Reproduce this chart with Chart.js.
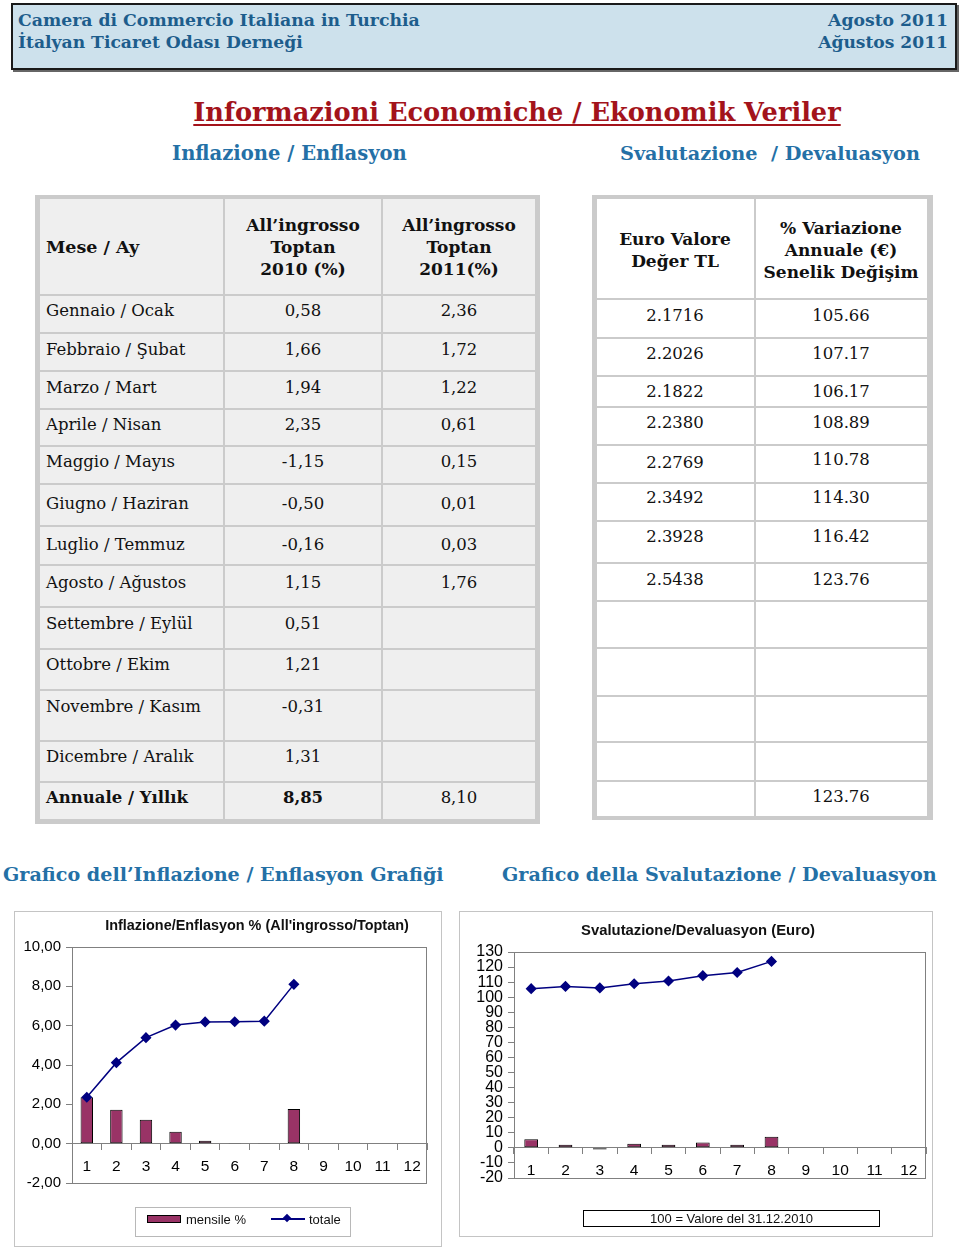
<!DOCTYPE html>
<html><head><meta charset="utf-8">
<script src="https://cdn.jsdelivr.net/npm/chart.js@4.4.1/dist/chart.umd.min.js"></script>
<style>
body{margin:0;background:#fff;width:960px;height:1249px;position:relative;overflow:hidden;font-family:'DejaVu Serif',serif;color:#111;}
.a{position:absolute;white-space:nowrap;}
.hd{font-weight:bold;color:#1d5d8c;font-size:17px;line-height:22px;}
.sub{font-weight:bold;color:#2470a6;font-size:18px;line-height:24px;}
.cell{position:absolute;box-sizing:border-box;}
.ct{position:absolute;white-space:nowrap;font-size:16.5px;line-height:20px;}
.sans{font-family:'Liberation Sans',Arial,sans-serif;}
</style></head><body>

<!-- header box -->
<div class="a" style="left:11px;top:3px;width:942px;height:63px;background:#cde1ec;border:2px solid #1a1a1a;box-shadow:2px 2px 0 #666;"></div>
<div class="a hd fit" data-w="402" style="left:18px;top:9px;">Camera di Commercio Italiana in Turchia</div>
<div class="a hd fit" data-w="285" style="left:18px;top:31px;">İtalyan Ticaret Odası Derneği</div>
<div class="a hd fit" data-w="120" data-right="948" style="left:828px;top:9px;">Agosto 2011</div>
<div class="a hd fit" data-w="130" data-right="948" style="left:818px;top:31px;">Ağustos 2011</div>

<div class="a fit" data-w="648" data-cx="517" style="top:96px;font-weight:bold;font-size:25px;line-height:32px;color:#a3131b;text-decoration:underline;text-decoration-thickness:2px;text-underline-offset:3px;">Informazioni Economiche / Ekonomik Veriler</div>
<div class="a sub fit" data-w="235" style="left:172px;top:142px;">Inflazione / Enflasyon</div>
<div class="a sub fit" data-w="300" style="left:620px;top:142px;">Svalutazione&nbsp; / Devaluasyon</div>

<div id="tbl"></div>

<div class="a sub fit" data-w="441" style="left:3px;top:863px;">Grafico dell’Inflazione / Enflasyon Grafiği</div>
<div class="a sub fit" data-w="435" style="left:502px;top:863px;">Grafico della Svalutazione / Devaluasyon</div>

<!-- chart 1 -->
<div class="a" style="left:14px;top:911px;width:426px;height:334px;border:1px solid #c4c4c4;"></div>
<canvas id="c1" width="425" height="332" style="position:absolute;left:15px;top:913px;"></canvas>
<div class="a sans fit" data-w="304" data-cx="257" style="top:917px;font-weight:bold;font-size:11.5px;line-height:16px;color:#111;">Inflazione/Enflasyon % (All'ingrosso/Toptan)</div>
<div class="a" style="left:135px;top:1207px;width:214px;height:28px;border:1px solid #b8b8b8;"></div>
<div class="a" style="left:147px;top:1215px;width:32px;height:6px;background:#993366;border:1px solid #000;"></div>
<div class="a sans" style="left:186px;top:1211px;font-size:13px;line-height:17px;">mensile %</div>
<div class="a" style="left:271px;top:1218px;width:34px;height:2px;background:#000080;"></div>
<div class="a" style="left:284px;top:1215px;width:6px;height:6px;background:#000080;transform:rotate(45deg);"></div>
<div class="a sans" style="left:309px;top:1211px;font-size:13px;line-height:17px;">totale</div>

<!-- chart 2 -->
<div class="a" style="left:459px;top:911px;width:472px;height:324px;border:1px solid #c4c4c4;"></div>
<canvas id="c2" width="472" height="322" style="position:absolute;left:460px;top:913px;"></canvas>
<div class="a sans fit" data-w="234" data-cx="698" style="top:922px;font-weight:bold;font-size:13px;line-height:16px;color:#111;">Svalutazione/Devaluasyon (Euro)</div>
<div class="a sans" style="left:583px;top:1210px;width:295px;height:15px;border:1.5px solid #000;text-align:center;font-size:13px;line-height:15px;">100 = Valore del 31.12.2010</div>

<script>
// ---------- DATA ----------
const monthNames = ['Gennaio / Ocak','Febbraio / Şubat','Marzo / Mart','Aprile / Nisan','Maggio / Mayıs','Giugno / Haziran','Luglio / Temmuz','Agosto / Ağustos','Settembre / Eylül','Ottobre / Ekim','Novembre / Kasım','Dicembre / Aralık'];
const monthNums = ['1','2','3','4','5','6','7','8','9','10','11','12'];
const infl2010 = [0.58,1.66,1.94,2.35,-1.15,-0.50,-0.16,1.15,0.51,1.21,-0.31,1.31];
const infl2011 = [2.36,1.72,1.22,0.61,0.15,0.01,0.03,1.76];
const inflAnnual2010 = 8.85;
const inflAnnual2011 = 8.10;
const inflTotal2011 = [2.36,4.12,5.39,6.03,6.19,6.20,6.23,8.10];
const euroTL = [2.1716,2.2026,2.1822,2.2380,2.2769,2.3492,2.3928,2.5438];
const euroIndex = [105.66,107.17,106.17,108.89,110.78,114.30,116.42,123.76];
const euroIndexAnnual = 123.76;
const euroMonthly = [5.8,2.0,-1.1,2.8,2.0,3.5,2.1,7.4];

// ---------- TABLES (layout) ----------
const tbl = document.getElementById('tbl');
function box(l,t,w,h,bg){const d=document.createElement('div');d.className='cell';d.style.cssText=`left:${l}px;top:${t}px;width:${w}px;height:${h}px;background:${bg};`;tbl.appendChild(d);return d;}
function txt(s,x,cy,align,bold,lh,fs){const d=document.createElement('div');d.className='ct';lh=lh||20;d.style.lineHeight=lh+'px';
  d.innerHTML=s; if(bold)d.style.fontWeight='bold'; if(fs)d.style.fontSize=fs+'px';
  const lines=(s.match(/<br>/g)||[]).length+1; d.style.top=(cy-lines*lh/2)+'px';
  if(align==='c'){d.style.left=x+'px';d.style.transform='translateX(-50%)';d.style.textAlign='center';} else d.style.left=x+'px';
  tbl.appendChild(d);return d;}
const fmtC=v=>v.toFixed(2).replace('.',',');

// left table
box(35,195,505,629,'#cbcbcb');
const LC=[[40,183],[225,156],[383,152]];
const Ltops=[296,334,372,410,447,485,527,566,608,650,691,742,783];
const Lbots=[332,370,408,445,483,525,564,606,648,689,740,781,819];
const Lcy=[311,350,388,425,462,504,545,583,624,665,707,757,798];
LC.forEach(c=>box(c[0],199,c[1],95,'#efefef'));
Ltops.forEach((t,i)=>LC.forEach(c=>box(c[0],t,c[1],Lbots[i]-t,'#efefef')));
txt('Mese / Ay',46,247,'l',true,22,17.5);
txt('All’ingrosso<br>Toptan<br>2010 (%)',303,247,'c',true,22,17);
txt('All’ingrosso<br>Toptan<br>2011(%)',459,247,'c',true,22,17);
monthNames.forEach((m,i)=>{
  txt(m,46,Lcy[i],'l');
  txt(fmtC(infl2010[i]),303,Lcy[i],'c');
  if(i<infl2011.length) txt(fmtC(infl2011[i]),459,Lcy[i],'c');
});
txt('Annuale / Yıllık',46,798,'l',true);
txt(fmtC(inflAnnual2010),303,798,'c',true);
txt(fmtC(inflAnnual2011),459,798,'c');

// right table
box(592,195,341,625,'#cbcbcb');
const RC=[[597,157],[756,171]];
const Rtops=[300,339,377,408,446,484,522,564,602,649,697,743,782];
const Rbots=[337,375,406,444,482,520,562,600,647,695,741,780,816];
const Rcy=[316,354,392,423,463,498,537,580];
RC.forEach(c=>box(c[0],199,c[1],99,'#ffffff'));
Rtops.forEach((t,i)=>RC.forEach(c=>box(c[0],t,c[1],Rbots[i]-t,'#ffffff')));
txt('Euro Valore<br>Değer TL',675,250,'c',true,22,17);
txt('% Variazione<br>Annuale (€)<br>Senelik Değişim',841,250,'c',true,22,17);
euroTL.forEach((v,i)=>{
  txt(v.toFixed(4),675,Rcy[i],'c');
  txt(euroIndex[i].toFixed(2),841,Rcy[i]-(i===4?3:0),'c');
});
txt(euroIndexAnnual.toFixed(2),841,797,'c');

// ---------- fit texts ----------
document.querySelectorAll('.fit').forEach(el=>{
  const w=el.getBoundingClientRect().width; const fs=parseFloat(getComputedStyle(el).fontSize);
  el.style.fontSize=(fs*(+el.dataset.w)/w)+'px';
  const nw=el.getBoundingClientRect().width;
  if(el.dataset.cx) el.style.left=(+el.dataset.cx - nw/2)+'px';
  if(el.dataset.right) el.style.left=(+el.dataset.right - nw)+'px';
});

// ---------- CHARTS ----------
Chart.defaults.font.family="'Liberation Sans', Arial, sans-serif";
Chart.defaults.color='#000';
const frame={id:'frame',beforeDatasetsDraw(chart){const {ctx,chartArea:a}=chart;ctx.save();ctx.strokeStyle='#808080';ctx.lineWidth=1;
  ctx.strokeRect(Math.round(a.left)+0.5,Math.round(a.top)+0.5,Math.round(a.right-a.left)-1,Math.round(a.bottom-a.top));ctx.restore();}};

function axes(ymin,ymax,step,yfs,yw,fmt){
  return {
    x:{position:{y:0},grid:{display:true,drawOnChartArea:false,drawTicks:true,tickLength:6,offset:true,color:'#808080'},
       border:{display:true,color:'#808080'},ticks:{font:{size:15.5},padding:8,maxRotation:0,autoSkip:false}},
    y:{min:ymin,max:ymax,grid:{display:true,drawOnChartArea:false,drawTicks:true,tickLength:6,color:'#808080'},
       border:{display:true,color:'#808080'},ticks:{stepSize:step,autoSkip:false,font:{size:yfs},padding:5,callback:fmt},
       afterFit:s=>{s.width=yw;}}
  };
}
function ds(lineData,barData,lineLbl,barLbl,bp){
  return [
    {type:'line',label:lineLbl,data:lineData,borderColor:'#000080',backgroundColor:'#000080',borderWidth:1.5,
     pointStyle:'rectRot',pointRadius:4.5,pointBackgroundColor:'#000080',pointBorderColor:'#000080',tension:0,order:0},
    {type:'bar',label:barLbl,data:barData,backgroundColor:'#993366',borderColor:'#000',borderWidth:1,borderSkipped:false,
     barPercentage:bp,categoryPercentage:1,order:1}
  ];
}
new Chart(document.getElementById('c1'),{
  type:'bar',
  data:{labels:monthNums,datasets:ds(inflTotal2011,infl2011,'totale','mensile %',0.42)},
  options:{animation:false,responsive:false,events:[],
    layout:{padding:{left:0,right:13,top:34,bottom:62}},
    plugins:{legend:{display:false},tooltip:{enabled:false}},
    scales:axes(-2,10,2,15,57,v=>v.toFixed(2).replace('.',','))},
  plugins:[frame]
});
new Chart(document.getElementById('c2'),{
  type:'bar',
  data:{labels:monthNums,datasets:ds(euroIndex,euroMonthly,'Euro','variazione',0.40)},
  options:{animation:false,responsive:false,events:[],
    layout:{padding:{left:0,right:2,top:39,bottom:57}},
    plugins:{legend:{display:false},tooltip:{enabled:false}},
    scales:axes(-20,130,10,16,54,v=>String(v))},
  plugins:[frame]
});
</script>
</body></html>
